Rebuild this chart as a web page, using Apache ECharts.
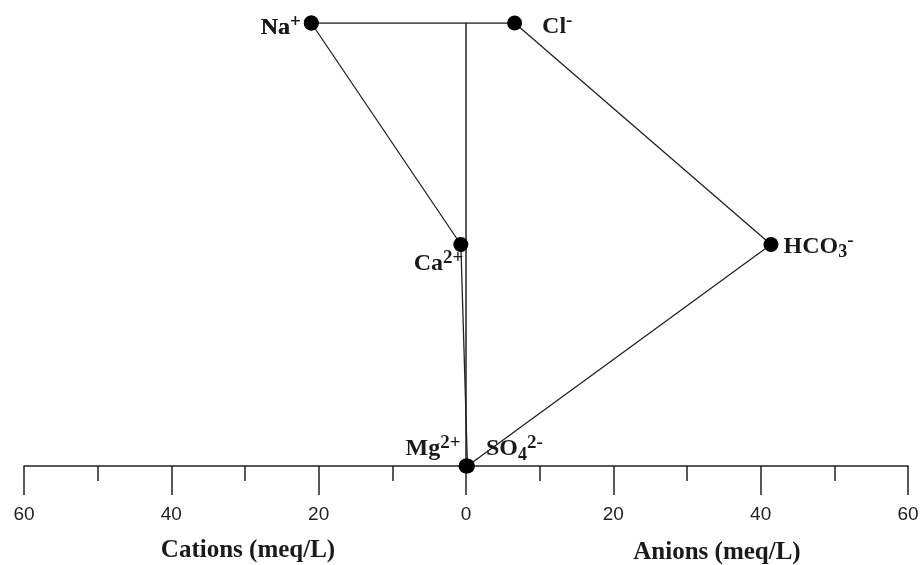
<!DOCTYPE html>
<html>
<head>
<meta charset="utf-8">
<script src="https://cdn.jsdelivr.net/npm/echarts@6/dist/echarts.min.js"></script>
<style>
  html, body { margin: 0; padding: 0; background: #fff; }
  #chart { width: 923px; height: 565px; }
</style>
</head>
<body>
<div id="chart"></div>
<script>
// rows: 2 = top, 1 = middle, 0 = bottom (on the axis)
const rows = [2, 1, 0];
const cationNames = ['Na', 'Ca', 'Mg'];
const cationValues = [21.0, 0.7, 0.0];
const anionNames = ['Cl', 'HCO3', 'SO4'];
const anionValues = [6.6, 41.4, 0.2];
const tickValues = [-60, -40, -20, 0, 20, 40, 60];

const serif = 'Liberation Serif, Times New Roman, serif';
const ink = '#1a1a1a';

const rich = {
  b: { fontFamily: serif, fontWeight: 'bold', fontSize: 24, color: ink, lineHeight: 30 },
  sup: { fontFamily: serif, fontWeight: 'bold', fontSize: 19, color: ink, verticalAlign: 'top', lineHeight: 12 },
  sub: { fontFamily: serif, fontWeight: 'bold', fontSize: 18, color: ink, verticalAlign: 'bottom', lineHeight: 14 }
};

// label text + placement for every ion
const labelText = {
  Na: '{b|Na}{sup|+}',
  Ca: '{b|Ca}{sup|2+}',
  Mg: '{b|Mg}{sup|2+}',
  Cl: '{b|Cl}{sup|-}',
  HCO3: '{b|HCO}{sub|3}{sup|-}',
  SO4: '{b|SO}{sub|4}{sup|2-}'
};
const labelPlace = {
  Na: { position: 'left', distance: 3, offset: [0, 5] },
  Ca: { position: 'left', distance: 0, offset: [10, 19] },
  Mg: { position: 'left', distance: 0, offset: [2, -17] },
  Cl: { position: 'right', distance: 20, offset: [0, 4] },
  HCO3: { position: 'right', distance: 5, offset: [0, 2] },
  SO4: { position: 'right', distance: 11, offset: [0, -17] }
};

const point = (name, x, y) => ({
  name: name,
  value: [x, y],
  label: Object.assign({ show: true, formatter: labelText[name], rich: rich }, labelPlace[name])
});

// polygon: cations on the left (negative), anions on the right
const polygon = [];
polygon.push(point(cationNames[0], -cationValues[0], rows[0]));
for (let i = 0; i < anionNames.length; i++) polygon.push(point(anionNames[i], anionValues[i], rows[i]));
for (let i = cationNames.length - 1; i >= 0; i--) polygon.push(point(cationNames[i], -cationValues[i], rows[i]));

const myChart = echarts.init(document.getElementById('chart'));
myChart.setOption({
  animation: false,
  grid: { left: 24, right: 15, top: 23, bottom: 99 },
  xAxis: {
    type: 'value',
    min: tickValues[0],
    max: tickValues[tickValues.length - 1],
    interval: 20,
    axisLine: { show: true, onZero: false, lineStyle: { color: '#222', width: 1.5 } },
    axisTick: { show: true, length: 29, lineStyle: { color: '#222', width: 1.5 } },
    minorTick: { show: true, splitNumber: 2, length: 15, lineStyle: { color: '#222', width: 1.5 } },
    splitLine: { show: false },
    axisLabel: {
      margin: 39,
      fontFamily: 'Liberation Sans, Arial, sans-serif',
      fontSize: 19,
      color: '#222',
      formatter: v => String(Math.abs(v))
    }
  },
  yAxis: { type: 'value', min: 0, max: 2, show: false },
  graphic: [
    { type: 'text', x: 248, y: 551, style: { text: 'Cations (meq/L)', font: 'bold 25px ' + serif, fill: ink, textAlign: 'center', textVerticalAlign: 'middle' } },
    { type: 'text', x: 717, y: 553, style: { text: 'Anions (meq/L)', font: 'bold 25px ' + serif, fill: ink, textAlign: 'center', textVerticalAlign: 'middle' } }
  ],
  series: [
    {
      type: 'line',
      data: [[0, rows[2]], [0, rows[0]]],
      symbol: 'none',
      lineStyle: { color: '#222', width: 1.5 },
      z: 2
    },
    {
      type: 'line',
      data: polygon.concat([{ value: polygon[0].value, label: { show: false }, symbolSize: 0 }]),
      symbol: 'circle',
      symbolSize: 15,
      itemStyle: { color: '#000' },
      lineStyle: { color: '#222', width: 1.3 },
      z: 3
    }
  ]
});
</script>
</body>
</html>
